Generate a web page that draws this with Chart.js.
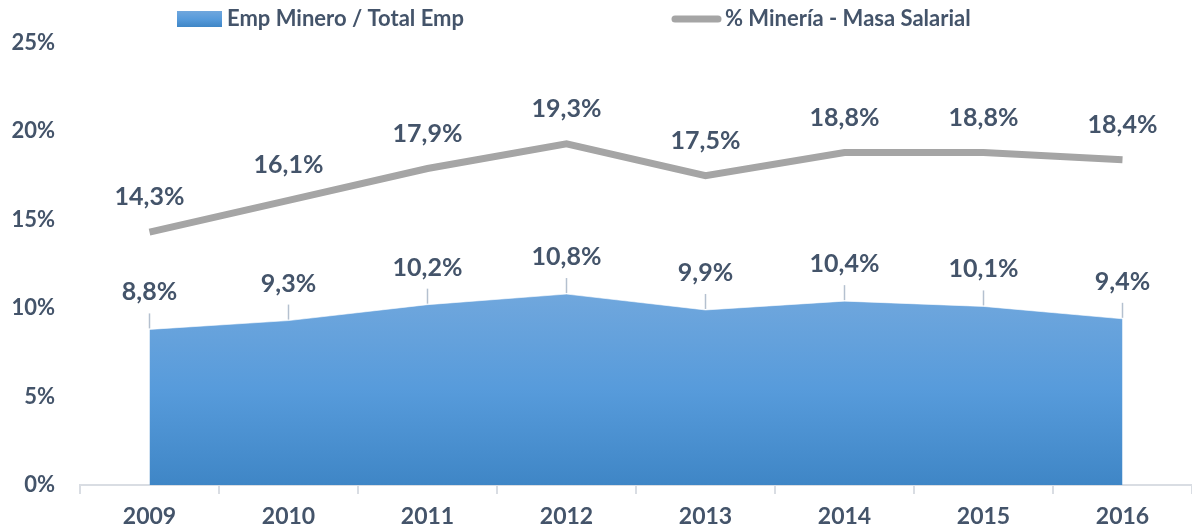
<!DOCTYPE html>
<html lang="es">
<head>
  <meta charset="UTF-8">
  <title>Empleo minero y masa salarial</title>
  <script src="https://cdn.jsdelivr.net/npm/chart.js"></script>
  <style>
    html, body { margin: 0; padding: 0; background: #fff; }
    #wrap { width: 1192px; height: 530px; position: relative; }
  </style>
</head>
<body>
<div id="wrap">
  <canvas id="chart"></canvas>
</div>

<script>
  // datos
  const years = ['2009', '2010', '2011', '2012', '2013', '2014', '2015', '2016'];
  const empMinero = [8.8, 9.3, 10.2, 10.8, 9.9, 10.4, 10.1, 9.4];
  const masaSalarial = [14.3, 16.1, 17.9, 19.3, 17.5, 18.8, 18.8, 18.4];
  const yTicks = [0, 5, 10, 15, 20, 25];

  const textColor = '#44546a';
  const lineGray = '#a5a5a5';
  const FONT = 'Lato, "Open Sans", sans-serif';

  const fmt = v => v.toFixed(1).replace('.', ',') + '%';

  function blueGradient(ctx, top, bottom) {
    const g = ctx.createLinearGradient(0, top, 0, bottom);
    g.addColorStop(0, '#70a7dd');
    g.addColorStop(0.5, '#579bdb');
    g.addColorStop(1, '#3f86c6');
    return g;
  }

  // etiquetas de datos + leyenda dibujadas a mano
  const labelsPlugin = {
    id: 'labelsPlugin',
    afterDatasetsDraw(chart) {
      const ctx = chart.ctx;
      ctx.save();
      ctx.font = 'bold 25px ' + FONT;
      ctx.fillStyle = textColor;
      ctx.textAlign = 'center';
      ctx.textBaseline = 'middle';

      // area: etiqueta con linea guia
      chart.getDatasetMeta(0).data.forEach((pt, i) => {
        ctx.strokeStyle = '#b4c0cf';
        ctx.lineWidth = 1.5;
        ctx.beginPath();
        ctx.moveTo(pt.x, pt.y - 1);
        ctx.lineTo(pt.x, pt.y - 16);
        ctx.stroke();
        ctx.fillText(fmt(empMinero[i]), pt.x, pt.y - 37);
      });

      // linea
      chart.getDatasetMeta(1).data.forEach((pt, i) => {
        ctx.fillText(fmt(masaSalarial[i]), pt.x, pt.y - 35);
      });
      ctx.restore();
    },
    afterDraw(chart) {
      const ctx = chart.ctx;
      ctx.save();
      ctx.font = 'bold 22px ' + FONT;
      ctx.fillStyle = textColor;
      ctx.textAlign = 'left';
      ctx.textBaseline = 'middle';

      ctx.fillStyle = blueGradient(ctx, 11, 27);
      ctx.fillRect(177, 11, 45, 16);
      ctx.fillStyle = textColor;
      ctx.fillText('Emp Minero / Total Emp', 227, 19);

      ctx.strokeStyle = lineGray;
      ctx.lineWidth = 7;
      ctx.lineCap = 'round';
      ctx.beginPath();
      ctx.moveTo(675, 19);
      ctx.lineTo(718, 19);
      ctx.stroke();
      ctx.fillText('% Minería - Masa Salarial', 725, 19);
      ctx.restore();
    }
  };

  const ctx = document.getElementById('chart').getContext('2d');

  new Chart(ctx, {
    type: 'line',
    data: {
      labels: years,
      datasets: [
        {
          label: 'Emp Minero / Total Emp',
          data: empMinero,
          fill: 'origin',
          backgroundColor: (c) => {
            const area = c.chart.chartArea;
            if (!area) return '#559ada';
            const top = c.chart.scales.y.getPixelForValue(Math.max(...empMinero));
            return blueGradient(c.chart.ctx, top, area.bottom);
          },
          borderColor: 'rgba(255,255,255,0.6)',
          borderWidth: 1,
          pointRadius: 0,
          tension: 0
        },
        {
          label: '% Minería - Masa Salarial',
          data: masaSalarial,
          fill: false,
          borderColor: lineGray,
          borderWidth: 7,
          borderJoinStyle: 'miter',
          pointRadius: 0,
          tension: 0
        }
      ]
    },
    options: {
      responsive: true,
      maintainAspectRatio: false,
      animation: false,
      layout: { padding: { top: 43, right: 0, left: 0, bottom: 0 } },
      plugins: {
        legend: { display: false },
        tooltip: { enabled: false }
      },
      scales: {
        x: {
          offset: true,
          afterFit(scale) { scale.height = 45; },
          grid: {
            offset: true,
            drawOnChartArea: false,
            drawTicks: true,
            tickLength: 9,
            color: '#d9dde3',
            lineWidth: 2
          },
          border: { display: true, color: '#d9dde3', width: 2 },
          ticks: {
            color: textColor,
            font: { family: FONT, size: 23, weight: 'bold' },
            padding: 9
          }
        },
        y: {
          min: 0,
          max: 25,
          afterFit(scale) { scale.width = 80; },
          afterBuildTicks(scale) { scale.ticks = yTicks.map(v => ({ value: v })); },
          grid: { display: false, drawTicks: false },
          border: { display: false },
          ticks: {
            color: textColor,
            font: { family: FONT, size: 22, weight: 'bold' },
            padding: 25,
            callback: v => v + '%'
          }
        }
      }
    },
    plugins: [labelsPlugin]
  });
</script>
</body>
</html>
